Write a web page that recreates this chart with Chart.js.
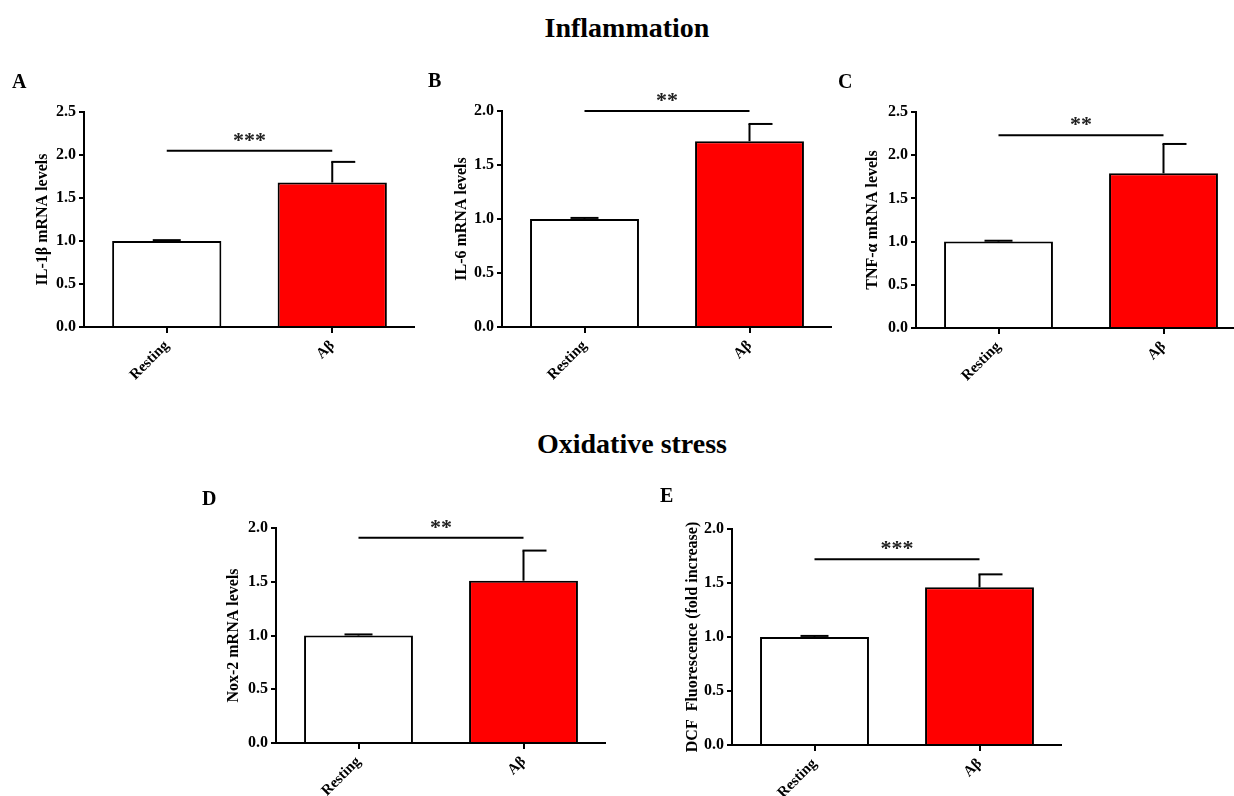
<!DOCTYPE html>
<html>
<head>
<meta charset="utf-8">
<script src="https://cdn.jsdelivr.net/npm/chart.js@4/dist/chart.umd.min.js"></script>
<style>
  html, body { margin:0; padding:0; background:#fff; overflow:hidden; }
  #wrap { position:relative; width:1234px; height:796px; background:#fff; overflow:hidden; }
  .txt { position:absolute; font-family:"Liberation Serif","Times New Roman",serif; font-weight:bold; color:#000; white-space:nowrap; z-index:5; }
  .main { font-size:28px; line-height:28px; left:0; text-align:center; }
  .lbl { font-size:20px; line-height:20px; }
  canvas { position:absolute; }
</style>
</head>
<body>
<div id="wrap">
  <div class="txt main" style="top:14px;width:1254px;">Inflammation</div>
  <div class="txt main" style="top:430px;width:1264px;">Oxidative stress</div>
  <div class="txt lbl" style="left:12px;top:71px;">A</div>
  <div class="txt lbl" style="left:428px;top:70px;">B</div>
  <div class="txt lbl" style="left:838px;top:71px;">C</div>
  <div class="txt lbl" style="left:202px;top:488px;">D</div>
  <div class="txt lbl" style="left:660px;top:485px;">E</div>
</div>
<script>
// ---- data ----
const categories = ['Resting', 'Aβ'];

const valuesA = [1.00, 1.68];
const errTopA = [1.01, 1.92];
const sigA = 2.05;
const starsA = '***';
const yMaxA = 2.5;
const yTitleA = 'IL-1β mRNA levels';

const valuesB = [1.00, 1.72];
const errTopB = [1.01, 1.88];
const sigB = 2.00;
const starsB = '**';
const yMaxB = 2.0;
const yTitleB = 'IL-6 mRNA levels';

const valuesC = [1.00, 1.79];
const errTopC = [1.01, 2.13];
const sigC = 2.23;
const starsC = '**';
const yMaxC = 2.5;
const yTitleC = 'TNF-α mRNA levels';

const valuesD = [1.00, 1.51];
const errTopD = [1.01, 1.79];
const sigD = 1.91;
const starsD = '**';
const yMaxD = 2.0;
const yTitleD = 'Nox-2 mRNA levels';

const valuesE = [1.00, 1.46];
const errTopE = [1.01, 1.58];
const sigE = 1.72;
const starsE = '***';
const yMaxE = 2.0;
const yTitleE = 'DCF  Fluorescence (fold increase)';

const yStep = 0.5;

// ---- layout / style ----
const FONT = '"Liberation Serif","Times New Roman",serif';
const Y_W = 70, PAD_T = 40, X_H = 80;
const capLeft = [14, 1], capRight = [14, 23];
const TITLE_SIZE = 16;

const panels = [
  {values:valuesA, err:errTopA, sig:sigA, stars:starsA, yMax:yMaxA, title:yTitleA, axisX:84,  top:112, bottom:327, right:415,  titleOff:41},
  {values:valuesB, err:errTopB, sig:sigB, stars:starsB, yMax:yMaxB, title:yTitleB, axisX:502, top:111, bottom:327, right:832,  titleOff:40},
  {values:valuesC, err:errTopC, sig:sigC, stars:starsC, yMax:yMaxC, title:yTitleC, axisX:916, top:112, bottom:328, right:1246, titleOff:43},
  {values:valuesD, err:errTopD, sig:sigD, stars:starsD, yMax:yMaxD, title:yTitleD, axisX:276, top:528, bottom:743, right:606,  titleOff:42},
  {values:valuesE, err:errTopE, sig:sigE, stars:starsE, yMax:yMaxE, title:yTitleE, axisX:732, top:529, bottom:745, right:1062, titleOff:39}
];

const annot = {
  id: 'annot',
  afterDatasetsDraw(chart, args, opts) {
    const ctx = chart.ctx;
    const xs = chart.scales.x, ys = chart.scales.y;
    ctx.save();
    ctx.strokeStyle = '#000';
    ctx.lineWidth = 2;
    opts.err.forEach((v, i) => {
      const bx = xs.getPixelForValue(i);
      const yTop = ys.getPixelForValue(v);
      const yBar = ys.getPixelForValue(opts.values[i]);
      ctx.beginPath(); ctx.moveTo(bx, yBar); ctx.lineTo(bx, yTop); ctx.stroke();
      ctx.beginPath(); ctx.moveTo(bx - capLeft[i], yTop); ctx.lineTo(bx + capRight[i], yTop); ctx.stroke();
    });
    const yS = ys.getPixelForValue(opts.sig);
    const x0 = xs.getPixelForValue(0), x1 = xs.getPixelForValue(1);
    ctx.beginPath(); ctx.moveTo(x0, yS); ctx.lineTo(x1, yS); ctx.stroke();
    ctx.font = 'bold 22px ' + FONT;
    ctx.textAlign = 'center';
    ctx.textBaseline = 'alphabetic';
    ctx.fillStyle = '#222';
    ctx.fillText(opts.stars, (x0 + x1) / 2, yS - 4);
    ctx.restore();
  }
};

const wrap = document.getElementById('wrap');
panels.forEach(p => {
  const c = document.createElement('canvas');
  const w = Y_W + (p.right - p.axisX);
  const h = PAD_T + (p.bottom - p.top) + X_H;
  c.width = w; c.height = h;
  c.style.width = w + 'px'; c.style.height = h + 'px';
  c.style.left = (p.axisX - Y_W) + 'px';
  c.style.top = (p.top - PAD_T) + 'px';
  wrap.appendChild(c);
  new Chart(c, {
    type: 'bar',
    data: {
      labels: categories,
      datasets: [{
        data: p.values,
        backgroundColor: ['#ffffff', '#ff0000'],
        borderColor: '#000',
        borderWidth: 2,
        barPercentage: 0.66,
        categoryPercentage: 1
      }]
    },
    options: {
      responsive: false,
      animation: false,
      devicePixelRatio: 1,
      layout: { padding: { top: PAD_T, left: 0, right: 0, bottom: 0 } },
      plugins: {
        legend: { display: false },
        tooltip: { enabled: false },
        annot: { values: p.values, err: p.err, sig: p.sig, stars: p.stars }
      },
      scales: {
        x: {
          offset: true,
          grid: { display: true, drawOnChartArea: false, offset: false, tickLength: 6, color: '#000', lineWidth: 2 },
          border: { display: true, color: '#000', width: 2 },
          ticks: { font: { family: FONT, size: 15, weight: 'bold' }, color: '#000', maxRotation: 45, minRotation: 45, padding: 4 },
          afterFit(s) { s.height = X_H; }
        },
        y: {
          min: 0, max: p.yMax,
          ticks: { stepSize: yStep, callback: v => Number(v).toFixed(1), font: { family: FONT, size: 16, weight: 'bold' }, color: '#000', padding: 3 },
          grid: { drawOnChartArea: false, tickLength: 5, color: '#000', lineWidth: 2 },
          border: { display: true, color: '#000', width: 2 },
          title: { display: true, text: p.title, color: '#000', font: { family: FONT, size: TITLE_SIZE, weight: 'bold' }, padding: { top: Y_W - p.titleOff - TITLE_SIZE * 0.6, bottom: 0 } },
          afterFit(s) { s.width = Y_W; }
        }
      }
    },
    plugins: [annot]
  });
});
</script>
</body>
</html>
